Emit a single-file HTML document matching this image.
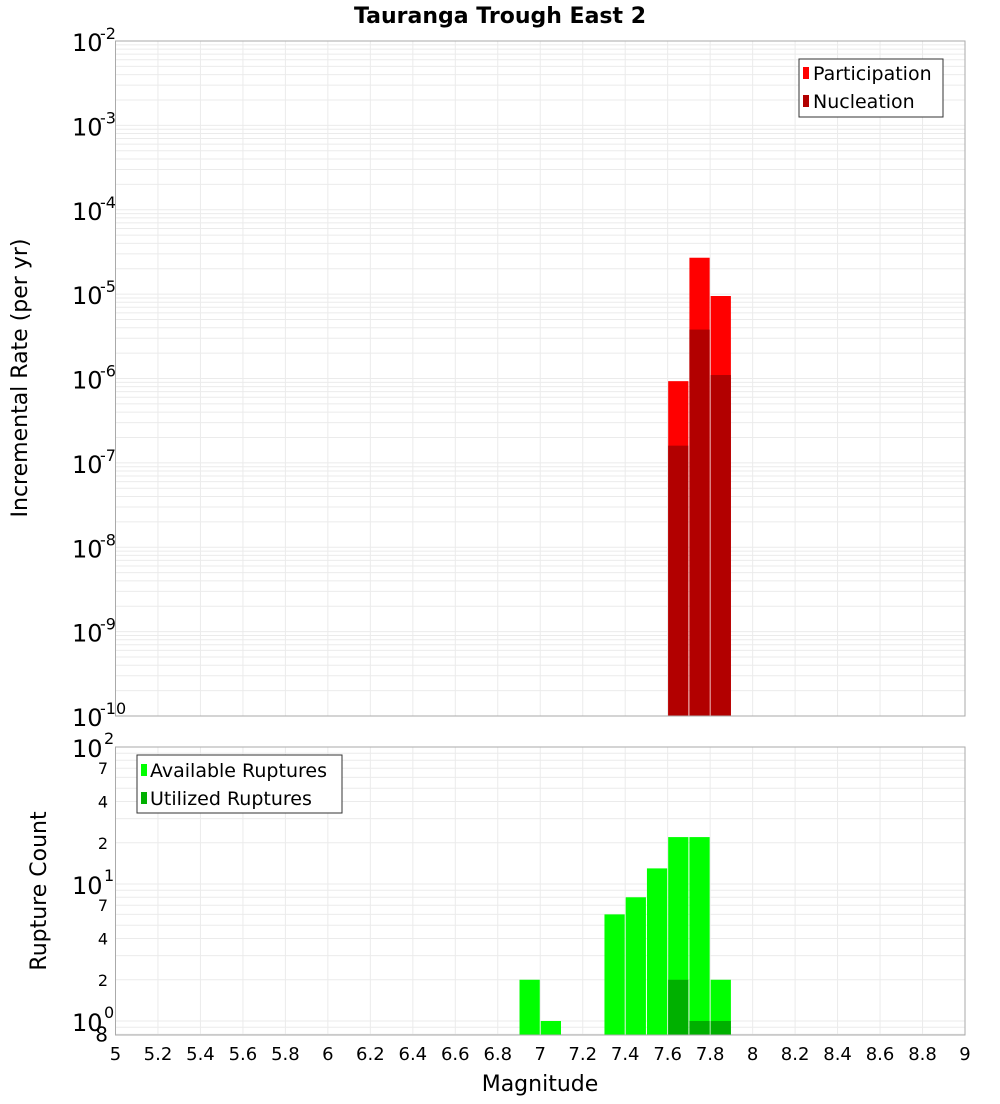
<!DOCTYPE html>
<html><head><meta charset="utf-8"><style>
body{margin:0;background:#fff;font-family:"DejaVu Sans","Liberation Sans",sans-serif}
svg text{font-family:"DejaVu Sans","Liberation Sans",sans-serif}
</style></head><body>
<svg id="chart" width="1000" height="1100" xmlns="http://www.w3.org/2000/svg">
<text x="500" y="23" text-anchor="middle" font-size="22" font-weight="bold">Tauranga Trough East 2</text>
<g id="topg"></g><g id="botg"></g>
<text transform="translate(27,378) rotate(-90)" text-anchor="middle" font-size="22">Incremental Rate (per yr)</text>
<text transform="translate(46,891) rotate(-90)" text-anchor="middle" font-size="22">Rupture Count</text>
<text x="540" y="1091" text-anchor="middle" font-size="22">Magnitude</text>
<g>
<rect x="799" y="59" width="144" height="58" fill="#fff" stroke="#333"/>
<rect x="803" y="67" width="6" height="12" fill="#ff0000"/><text x="813" y="80" font-size="19">Participation</text>
<rect x="803" y="95" width="6" height="12" fill="#b20000"/><text x="813" y="108" font-size="19">Nucleation</text>
</g>
<g>
<rect x="137" y="755" width="205" height="58" fill="#fff" stroke="#333"/>
<rect x="141" y="764" width="6" height="12" fill="#00ff00"/><text x="150" y="777" font-size="19">Available Ruptures</text>
<rect x="141" y="792" width="6" height="12" fill="#00b000"/><text x="150" y="805" font-size="19">Utilized Ruptures</text>
</g>
</svg>
<script>
const xTicks=[5,5.2,5.4,5.6,5.8,6,6.2,6.4,6.6,6.8,7,7.2,7.4,7.6,7.8,8,8.2,8.4,8.6,8.8,9];
const topBins=[7.65,7.75,7.85];
const participation=[9.3e-7,2.7e-5,9.5e-6];
const nucleation=[1.6e-7,3.8e-6,1.1e-6];
const botBins=[6.95,7.05,7.35,7.45,7.55,7.65,7.75,7.85];
const available=[2,1,6,8,13,22,22,2];
const utilizedBins=[7.65,7.75,7.85];
const utilized=[2,1,1];
const topExps=[-10,-9,-8,-7,-6,-5,-4,-3,-2];
const botLabels=[[100,'10','2'],[70,'7'],[40,'4'],[20,'2'],[10,'10','1'],[7,'7'],[4,'4'],[2,'2'],[1,'10','0'],[0.8,'8']];
const NS='http://www.w3.org/2000/svg';
const L=115.5,R=965;
const X=m=>L+(m-5)/4*(R-L);
const Ty=v=>41+(-2-Math.log10(v))*84.375;
const By=v=>1021-Math.log10(v)*137;
function mk(p,t,a){const e=document.createElementNS(NS,t);for(const k in a)e.setAttribute(k,a[k]);p.appendChild(e);return e;}
const topG=document.getElementById('topg'),botG=document.getElementById('botg');
for(let e=-10;e<-2;e++)for(let k=1;k<10;k++){const y=Ty(k*Math.pow(10,e));const g=mk(topG,'line',{x1:L,x2:R,y1:y,y2:y,stroke:'#ebebeb'});

}
for(const t of xTicks){const g=mk(topG,'line',{x1:X(t),x2:X(t),y1:41,y2:716,stroke:'#ebebeb'});


const g2=mk(botG,'line',{x1:X(t),x2:X(t),y1:747,y2:1035,stroke:'#ebebeb'});


const tx=mk(botG,'text',{x:X(t),y:1060,'text-anchor':'middle','font-size':18});tx.textContent=String(t);

}
for(let e=-1;e<2;e++)for(let k=1;k<10;k++){const v=k*Math.pow(10,e);const y=By(v);if(y>1035||y<747)continue;const g=mk(botG,'line',{x1:L,x2:R,y1:y,y2:y,stroke:'#ebebeb'});

}
topBins.forEach((b,i)=>{const x0=X(b-0.05)+0.5,x1=X(b+0.05)-0.5;
const r=mk(topG,'rect',{x:x0,y:Ty(participation[i]),width:x1-x0,height:716-Ty(participation[i]),fill:'#ff0000'});


const n=mk(topG,'rect',{x:x0,y:Ty(nucleation[i]),width:x1-x0,height:716-Ty(nucleation[i]),fill:'#b20000'});

});
botBins.forEach((b,i)=>{const x0=X(b-0.05)+0.5,x1=X(b+0.05)-0.5;
const r=mk(botG,'rect',{x:x0,y:By(available[i]),width:x1-x0,height:1035-By(available[i]),fill:'#00ff00'});

});
utilizedBins.forEach((b,i)=>{const x0=X(b-0.05)+0.5,x1=X(b+0.05)-0.5;
const r=mk(botG,'rect',{x:x0,y:By(utilized[i]),width:x1-x0,height:1035-By(utilized[i]),fill:'#00b000'});

});
const f1=mk(topG,'rect',{x:L,y:41,width:R-L,height:675,fill:'none',stroke:'#aaa'});


const f2=mk(botG,'rect',{x:L,y:747,width:R-L,height:288,fill:'none',stroke:'#aaa'});


for(const e of topExps){const y=Ty(Math.pow(10,e));const t=mk(topG,'text',{x:72,y:y+10,'font-size':24});t.textContent='10';


const s=mk(topG,'text',{x:100,y:y-2,'font-size':16});s.textContent=String(e);

}
for(const l of botLabels){const y=By(l[0]);
if(l.length===3){const t=mk(botG,'text',{x:72,y:y+10,'font-size':24});t.textContent=l[1];


const s=mk(botG,'text',{x:104,y:y-3,'font-size':16});s.textContent=l[2];

}
else{const t=mk(botG,'text',{x:108,y:y+(l[0]<1?7:6),'text-anchor':'end','font-size':l[0]<1?20:16});t.textContent=l[1];

}}
</script>
</body></html>
